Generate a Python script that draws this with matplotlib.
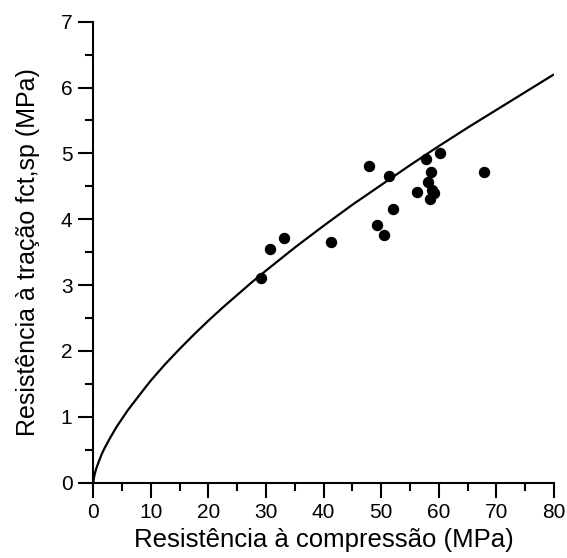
import numpy as np
import matplotlib.pyplot as plt
from matplotlib.ticker import MultipleLocator

plt.rcParams['font.family'] = ['Liberation Sans', 'DejaVu Sans']

# ensaios: compressao (MPa) x tracao por compressao diametral (MPa)
fc = [29.2, 30.7, 33.1, 41.2, 47.9, 49.3, 50.5, 51.3, 52.0, 56.3,
      57.8, 58.1, 58.5, 58.7, 58.9, 59.2, 60.2, 67.9]
fct_sp = [3.10, 3.55, 3.71, 3.65, 4.81, 3.91, 3.76, 4.66, 4.16, 4.41,
          4.91, 4.56, 4.30, 4.71, 4.45, 4.40, 5.01, 4.71]

# curva de referencia
curva_x = [0, 0.1, 0.25, 0.5, 1, 1.5, 2, 3, 4, 5, 6, 7.5, 9, 10, 12.5, 15,
           17.5, 20, 22.5, 25, 27.5, 30, 35, 40, 45, 50, 55, 60, 65, 70, 75, 80]
curva_y = [0, 0.07, 0.13, 0.21, 0.33, 0.44, 0.53, 0.69, 0.84, 0.97, 1.10,
           1.27, 1.44, 1.55, 1.80, 2.03, 2.25, 2.46, 2.66, 2.85, 3.04, 3.22,
           3.57, 3.90, 4.22, 4.52, 4.82, 5.11, 5.39, 5.66, 5.93, 6.20]

fig = plt.figure(figsize=(5.67, 5.58), dpi=100)
ax = fig.add_axes([0.1646, 0.1353, 0.8124, 0.8258])

ax.plot(curva_x, curva_y, color='black', lw=1.6, solid_capstyle='butt')
ax.plot(fc, fct_sp, 'o', color='black', ms=7.2, clip_on=False)

ax.set_xlim(0, 80)
ax.set_ylim(0, 7)
ax.xaxis.set_major_locator(MultipleLocator(10))
ax.xaxis.set_minor_locator(MultipleLocator(5))
ax.yaxis.set_major_locator(MultipleLocator(1))
ax.yaxis.set_minor_locator(MultipleLocator(0.5))

for s in ['top', 'right']:
    ax.spines[s].set_visible(False)
for s in ['left', 'bottom']:
    ax.spines[s].set_linewidth(1.5)

ax.tick_params(which='major', direction='out', length=11, width=1.5,
               labelsize=15, pad=4)
ax.tick_params(which='minor', direction='out', length=6, width=1.5)

ax.set_xlabel('Resistência à compressão (MPa)', fontsize=18.5, labelpad=4)
ax.set_ylabel('Resistência à tração fct,sp (MPa)', fontsize=18, labelpad=15)

fig.savefig('out.png', dpi=100)
